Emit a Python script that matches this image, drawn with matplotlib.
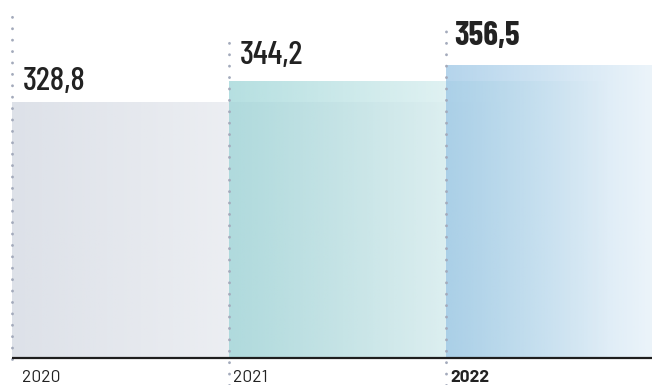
import numpy as np
import matplotlib
matplotlib.use("Agg")
import matplotlib.pyplot as plt
import matplotlib.transforms as mtransforms

# ---- data ----
years = ["2020", "2021", "2022"]
values = [328.8, 344.2, 356.5]
value_labels = ["328,8", "344,2", "356,5"]
highlight = [False, False, True]

# ---- styling ----
VAL_FONT = ["Barlow Condensed", "DejaVu Sans"]
YEAR_FONT = ["Barlow", "DejaVu Sans"]

bar_rgb = [(205, 211, 222), (150, 210, 212), (150, 195, 228)]
alpha_start = [0.68, 0.70, 0.71]
alpha_slope = [0.30, 0.40, 0.55]
label_offset_px = [12, 17, 20]
line_top_frac = [0.958, 0.902, 0.939]
line_bottom_frac = [0.0, -0.075, -0.075]

W, H = 652, 385
fig = plt.figure(figsize=(W / 100, H / 100), dpi=100)
ax_bottom = 26.5 / H
ax = fig.add_axes([0, ax_bottom, 1, 1 - ax_bottom])
ax.set_axis_off()

x_left, x_right = -0.055, 2.949
y_min, y_max = 137.4, 137.4 + (H - 26.5) / 1.3395
ax.set_xlim(x_left, x_right)
ax.set_ylim(y_min, y_max)

pos = np.arange(len(values))
widths = x_right - pos
bars = ax.bar(pos, values, width=widths, align="edge", color="none",
              edgecolor="none")

for i, (b, v) in enumerate(zip(bars, values)):
    xs = np.linspace(pos[i], x_right, 400)
    alpha = np.clip(alpha_start[i] - alpha_slope[i] * (xs - pos[i]), 0, 1)
    img = np.zeros((1, len(xs), 4))
    img[..., :3] = np.array(bar_rgb[i]) / 255.0
    img[0, :, 3] = alpha
    im = ax.imshow(img, extent=(pos[i], x_right, y_min, v), aspect="auto",
                   interpolation="bilinear", zorder=1 + i)
    im.set_clip_path(b)

# dotted vertical guides
trans = mtransforms.blended_transform_factory(ax.transData, ax.transAxes)
for i in range(len(values)):
    ax.plot([pos[i], pos[i]], [line_bottom_frac[i], line_top_frac[i]],
            transform=trans, color="#a3aabb", lw=2.1,
            linestyle=(0, (0.01, 3.9)), dash_capstyle="round",
            clip_on=False, zorder=6)

# baseline
ax.plot([pos[0], x_right], [y_min, y_min], color="#1e1e1e", lw=1.6,
        clip_on=False, zorder=7, solid_capstyle="butt")

# value labels
for i, v in enumerate(values):
    ax.annotate(value_labels[i], (pos[i], v),
                xytext=(11 * 0.72 if not highlight[i] else 8 * 0.72,
                        label_offset_px[i] * 0.72),
                textcoords="offset points", ha="left", va="baseline",
                fontsize=24, family=VAL_FONT,
                fontweight="bold" if highlight[i] else 500,
                color="#222222", zorder=8)

# year labels
for i, y in enumerate(years):
    ax.annotate(y, (pos[i], 0), xycoords=trans,
                xytext=(10.5 * 0.72 if i == 0 else 4 * 0.72, -23.5 * 0.72),
                textcoords="offset points", ha="left", va="baseline",
                fontsize=12.5, family=YEAR_FONT,
                fontweight="bold" if highlight[i] else "normal",
                color="#222222", zorder=8)

fig.savefig("out.png", dpi=100)
